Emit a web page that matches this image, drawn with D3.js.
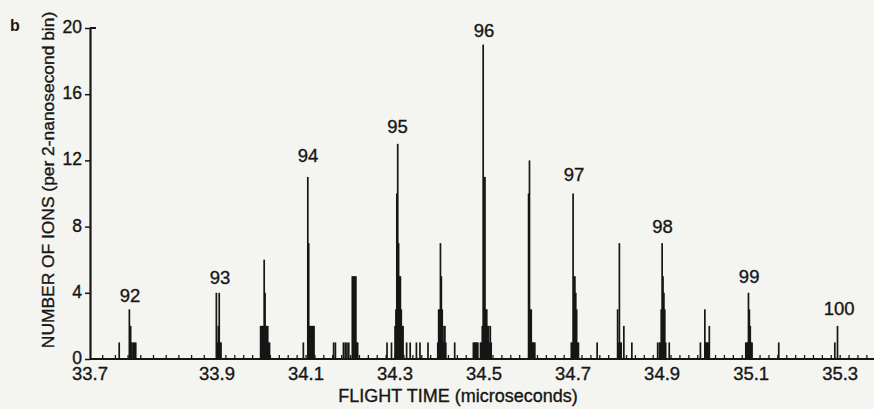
<!DOCTYPE html>
<html><head><meta charset="utf-8">
<script src="https://cdn.jsdelivr.net/npm/d3@7"></script>
<style>
body{margin:0;background:#f4f4f1;}
svg{display:block;font-family:"Liberation Sans",Arial,Helvetica,sans-serif;}
</style>
</head><body>
<svg id="chart" width="874" height="409"></svg>
<script>
// 2-ns bins: flight time (µs) and number of ions
const binTimes = [
  33.746,
  33.762, 33.764, 33.766, 33.768, 33.770, 33.772,
  33.899, 33.901, 33.903, 33.905, 33.907, 33.909,
  33.998, 34.000, 34.002, 34.004, 34.006, 34.008, 34.010, 34.012, 34.014, 34.016, 34.018,
  34.094,
  34.104, 34.106, 34.108, 34.110, 34.112, 34.114, 34.116, 34.118,
  34.162, 34.166, 34.184, 34.188, 34.192, 34.196,
  34.204, 34.206, 34.208, 34.210, 34.212, 34.214, 34.216,
  34.282, 34.292,
  34.300, 34.302, 34.304, 34.306, 34.308, 34.310, 34.312, 34.314, 34.316, 34.318,
  34.326, 34.334, 34.348, 34.356, 34.374,
  34.396, 34.398, 34.400, 34.402, 34.404, 34.406, 34.408, 34.410, 34.412, 34.414,
  34.434,
  34.476, 34.478, 34.480, 34.482, 34.484, 34.486,
  34.492, 34.494, 34.496, 34.498, 34.500, 34.502, 34.504, 34.506, 34.508, 34.510, 34.512, 34.514, 34.516,
  34.600, 34.602, 34.604, 34.606, 34.608, 34.610, 34.612, 34.614,
  34.696, 34.698, 34.700, 34.702, 34.704, 34.706, 34.708, 34.710, 34.712,
  34.754,
  34.800, 34.802, 34.804, 34.806, 34.808, 34.814,
  34.832,
  34.890, 34.894, 34.896, 34.898, 34.900, 34.902, 34.904, 34.906, 34.908, 34.916,
  34.986,
  34.996, 34.998, 35.000, 35.002, 35.004, 35.006,
  35.088, 35.090, 35.092, 35.094, 35.096, 35.098, 35.100, 35.102,
  35.162,
  35.288, 35.294
];
const binCounts = [
  1,
  3, 2, 1, 1, 1, 1,
  4, 1, 2, 4, 1, 1,
  2, 2, 2, 2, 6, 4, 2, 2, 2, 1, 1,
  1,
  11, 7, 2, 2, 2, 2, 2, 2,
  1, 1, 1, 1, 1, 1,
  5, 5, 5, 5, 5, 1, 1,
  1, 1,
  2, 3, 10, 13, 7, 5, 5, 3, 2, 2,
  1, 1, 1, 1, 1,
  1, 3, 3, 7, 5, 3, 1, 2, 2, 1,
  1,
  1, 1, 1, 1, 1, 1,
  1, 1, 2, 19, 11, 11, 3, 3, 2, 2, 1, 2, 1,
  10, 12, 3, 3, 1, 1, 1, 1,
  1, 1, 10, 5, 5, 4, 3, 1, 1,
  1,
  3, 1, 7, 1, 1, 2,
  1,
  1, 1, 1, 3, 7, 5, 4, 3, 1, 1,
  1,
  3, 1, 1, 1, 1, 2,
  1, 1, 1, 4, 3, 2, 1, 1,
  1,
  1, 2
];

// peak (mass) labels: flight time and height (ion count) where each label sits
const peakMasses     = ["92", "93", "94", "95", "96", "97", "98", "99", "100"];
const peakLabelTimes = [33.763, 33.9067, 34.1045, 34.3056, 34.500, 34.7022, 34.9011, 35.0955, 35.2978];
const peakLabelCounts= [3.44, 4.53, 11.9, 13.66, 19.46, 10.76, 7.61, 4.59, 2.66];

const xTickValues = [33.7, 33.9, 34.1, 34.3, 34.5, 34.7, 34.9, 35.1, 35.3];
const xTickLabels = ["33.7", "33.9", "34.1", "34.3", "34.5", "34.7", "34.9", "35.1", "35.3"];
const yTickValues = [0, 4, 8, 12, 16, 20];
const yTickLabels = ["0", "4", "8", "12", "16", "20"];

const xTitle = "FLIGHT TIME (microseconds)";
const yTitle = "NUMBER OF IONS (per 2-nanosecond bin)";
const panelLetter = "b";

const svg = d3.select("#chart");
const ink = "#161616";
const heavy = sel => sel.attr("stroke", ink).attr("stroke-width", 0.35);

// scales (the printed axis is compressed between 33.7 and 33.9)
const x = d3.scaleLinear().domain([33.7, 33.9, 35.376]).range([90, 217, 874]);
const y = d3.scaleLinear().domain([0, 20]).range([359, 28]);

// minor ticks along the time axis
const minor = d3.range(33.72, 35.37, 0.02);
svg.append("g").selectAll("line").data(minor).join("line")
  .attr("x1", d => x(d)).attr("x2", d => x(d))
  .attr("y1", y(0)).attr("y2", y(0) - 4)
  .attr("stroke", ink).attr("stroke-width", 1.3);

// bars
const bins = binTimes.map((t, i) => ({t, n: binCounts[i]}));
const bw = d => Math.max(1.7, Math.abs(x(d.t + 0.001) - x(d.t - 0.001)) * 0.95);
svg.append("g").selectAll("rect").data(bins).join("rect")
  .attr("x", d => x(d.t) - bw(d) / 2)
  .attr("width", bw)
  .attr("y", d => y(d.n))
  .attr("height", d => y(0) - y(d.n))
  .attr("fill", ink);

// x axis line
svg.append("line")
  .attr("x1", x.range()[0]).attr("x2", x.range()[2])
  .attr("y1", y(0)).attr("y2", y(0))
  .attr("stroke", ink).attr("stroke-width", 2.2);

// x tick labels
svg.append("g").selectAll("text").data(xTickValues).join("text")
  .attr("x", d => x(d)).attr("y", 380)
  .attr("text-anchor", "middle")
  .attr("font-size", 18.5).attr("fill", ink)
  .call(heavy)
  .text((d, i) => xTickLabels[i]);

// y axis
const yAxis = d3.axisLeft(y).tickValues(yTickValues)
  .tickFormat((d, i) => yTickLabels[i]).tickSize(5).tickSizeOuter(0).tickPadding(3);
const gy = svg.append("g").attr("transform", `translate(${x(33.7)},0)`).call(yAxis);
gy.select(".domain").attr("stroke", ink).attr("stroke-width", 2.2);
gy.selectAll(".tick line").attr("stroke", ink).attr("stroke-width", 1.5);
gy.selectAll(".tick text").attr("font-size", 17.5).attr("fill", ink)
  .attr("dy", "0.26em")
  .attr("font-family", '"Liberation Sans",Arial,Helvetica,sans-serif')
  .call(heavy);
// top hook of the y axis
svg.append("line")
  .attr("x1", x(33.7)).attr("x2", x(33.7) + 6)
  .attr("y1", y(20)).attr("y2", y(20))
  .attr("stroke", ink).attr("stroke-width", 2);

// peak labels
svg.append("g").selectAll("text").data(peakMasses).join("text")
  .attr("x", (d, i) => x(peakLabelTimes[i]))
  .attr("y", (d, i) => y(peakLabelCounts[i]))
  .attr("text-anchor", "middle")
  .attr("font-size", 18.5).attr("fill", ink)
  .call(heavy)
  .text(d => d);

// axis titles
svg.append("text")
  .attr("x", 458).attr("y", 402)
  .attr("text-anchor", "middle").attr("font-size", 18).attr("fill", ink)
  .call(heavy)
  .text(xTitle);
svg.append("text")
  .attr("transform", "translate(54,180) rotate(-90)")
  .attr("text-anchor", "middle").attr("font-size", 17.4).attr("fill", ink)
  .call(heavy)
  .text(yTitle);
svg.append("text")
  .attr("x", 10).attr("y", 31)
  .attr("font-size", 16).attr("font-weight", "bold").attr("fill", ink)
  .text(panelLetter);
</script>
</body></html>
